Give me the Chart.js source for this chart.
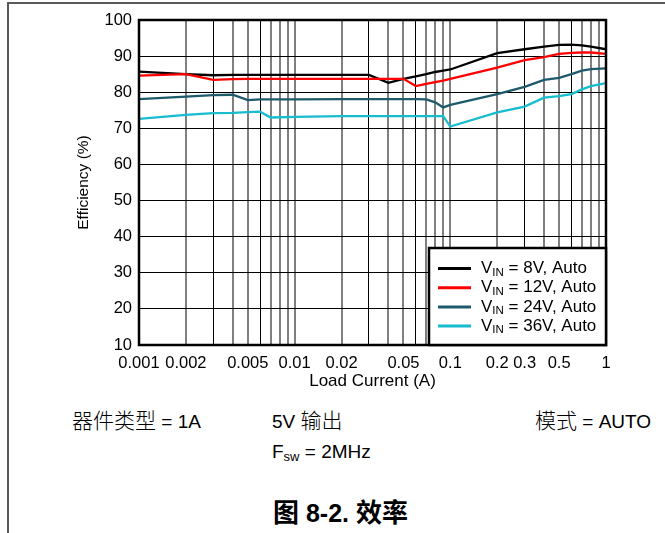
<!DOCTYPE html>
<html>
<head>
<meta charset="utf-8">
<script src="https://cdn.jsdelivr.net/npm/chart.js@4"></script>
<style>
  body { margin: 0; background: #fff; width: 665px; height: 533px; overflow: hidden; position: relative;
         font-family: "Liberation Sans", Arial, "Noto Sans CJK SC", sans-serif; color: #000; }
  #frame { position: absolute; left: 7px; top: 2px; width: 670px; height: 540px;
           border-top: 2px solid #5a5a5a; border-left: 2px solid #5a5a5a; }
  #wrap { position: absolute; left: 0; top: 0; width: 665px; height: 400px; }
  .note { position: absolute; font-size: 19px; line-height: 22px; height: 22px; white-space: nowrap; }
  .cjk { font-family: "Noto Sans CJK SC", sans-serif; font-weight: 300; font-size: 21px; }
  .note sub { font-size: 13px; vertical-align: -3px; }
  #caption { position: absolute; left: 273px; top: 496px; font-size: 25px; font-weight: bold; line-height: 30px; white-space: nowrap; }
  #caption .cjk { font-weight: bold; font-size: 26px; }
</style>
</head>
<body>
<div id="frame"></div>
<div id="wrap"><canvas id="eff_chart" width="665" height="400"></canvas></div>
<div class="note" style="left:72px; top:408px;"><span class="cjk">器件类型</span> = 1A</div>
<div class="note" style="left:272px; top:408px;">5V <span class="cjk">输出</span></div>
<div class="note" style="left:535px; top:408px;"><span class="cjk">模式</span> = AUTO</div>
<div class="note" style="left:272px; top:441px;">F<sub>sw</sub> = 2MHz</div>
<div id="caption"><span class="cjk">图</span> 8-2. <span class="cjk">效率</span></div>
<script>
const effCtx = document.getElementById("eff_chart").getContext("2d");

// load current (A), shared by all curves
const loadCurrent = [0.001, 0.002, 0.003, 0.004, 0.005, 0.006, 0.007, 0.01, 0.02, 0.03,
                     0.04, 0.05, 0.06, 0.07, 0.08, 0.09, 0.1, 0.2, 0.3, 0.4, 0.5, 0.6, 0.7, 0.8, 1];

// efficiency (%)
const eff8V  = [85.7, 85.0, 84.7, 84.8, 84.8, 84.8, 84.8, 84.8, 84.8, 84.8,
                82.6, 83.7, 84.4, 85.0, 85.6, 86.0, 86.3, 90.8, 91.9, 92.6, 93.1, 93.2, 93.0, 92.6, 91.9];
const eff12V = [84.6, 85.0, 83.4, 83.6, 83.7, 83.7, 83.7, 83.7, 83.7, 83.7,
                83.7, 83.7, 81.7, 82.3, 82.8, 83.2, 83.7, 86.8, 88.9, 89.7, 90.6, 90.9, 91.0, 91.0, 90.6];
const eff24V = [78.1, 78.8, 79.2, 79.3, 77.8, 78.0, 78.0, 78.0, 78.1, 78.1,
                78.1, 78.1, 78.1, 78.0, 77.2, 75.8, 76.5, 79.5, 81.5, 83.4, 84.0, 85.0, 86.0, 86.4, 86.6];
const eff36V = [72.6, 73.7, 74.2, 74.3, 74.5, 74.6, 73.0, 73.2, 73.4, 73.4,
                73.4, 73.4, 73.4, 73.4, 73.4, 73.4, 70.5, 74.4, 76.0, 78.5, 78.9, 79.5, 80.8, 81.7, 82.5];

const vinLabels = ["8V", "12V", "24V", "36V"];
const lineColors = ["#000000", "#ff0000", "#1d5a6c", "#17bccf"];

const xLabelValues = [0.001, 0.002, 0.005, 0.01, 0.02, 0.05, 0.1, 0.2, 0.3, 0.5, 1];
const xTickLabels = ["0.001", "0.002", "0.005", "0.01", "0.02", "0.05", "0.1", "0.2", "0.3", "0.5", "1"];

// grid lines at every 1..9 of each decade
const gridValues = [];
for (const d of [0.001, 0.01, 0.1]) {
    for (let m = 1; m <= 9; m++) gridValues.push(Number((m * d).toPrecision(3)));
}
gridValues.push(1);

const mantissa = v => Math.round(v / Math.pow(10, Math.floor(Math.log10(v) + 1e-9)));
const darkLine = ctx => ctx.tick && [3, 6].includes(mantissa(ctx.tick.value));

const toPoints = ys => ys.map((y, i) => ({ x: loadCurrent[i], y: y }));

const axisFont = { family: "'Liberation Sans', Arial", size: 16.5 };

// plot border + legend with subscript
const framePlugin = {
    id: "frame",
    afterDraw(chart) {
        const c = chart.ctx;
        const a = chart.chartArea;
        c.save();
        c.lineWidth = 2.5;
        c.strokeStyle = "#000";
        c.strokeRect(a.left, a.top, a.right - a.left, a.bottom - a.top);

        const bx = 429, by = 248;
        c.fillStyle = "#fff";
        c.fillRect(bx, by, a.right - bx, a.bottom - by);
        c.strokeRect(bx, by, a.right - bx, a.bottom - by);

        chart.data.datasets.forEach((ds, i) => {
            const y = 268.5 + i * 19.2;
            c.strokeStyle = ds.borderColor;
            c.lineWidth = 3;
            c.beginPath();
            c.moveTo(438, y);
            c.lineTo(471, y);
            c.stroke();
            c.fillStyle = "#000";
            c.textBaseline = "middle";
            c.font = "17px 'Liberation Sans', Arial";
            let x = 481;
            c.fillText("V", x, y);
            x += c.measureText("V").width;
            c.font = "11.5px 'Liberation Sans', Arial";
            c.fillText("IN", x, y + 4);
            x += c.measureText("IN").width;
            c.font = "17px 'Liberation Sans', Arial";
            c.fillText(" = " + vinLabels[i] + ", Auto", x, y);
        });
        c.restore();
    }
};

const effChart = new Chart(effCtx, {
    type: "line",
    data: {
        datasets: [eff8V, eff12V, eff24V, eff36V].map((ys, i) => ({
            label: "VIN = " + vinLabels[i] + ", Auto",
            data: toPoints(ys),
            borderColor: lineColors[i],
            backgroundColor: lineColors[i],
            borderWidth: 2.3,
            pointRadius: 0,
            tension: 0,
            order: 4 - i
        }))
    },
    options: {
        responsive: false,
        animation: false,
        layout: { padding: { left: 70, top: 20, right: 59, bottom: 0 } },
        plugins: { legend: { display: false }, tooltip: { enabled: false } },
        scales: {
            x: {
                type: "logarithmic",
                min: 0.001,
                max: 1,
                afterBuildTicks: scale => { scale.ticks = gridValues.map(v => ({ value: v })); },
                afterFit: scale => { scale.height = 55; },
                ticks: {
                    autoSkip: false,
                    maxRotation: 0,
                    padding: 9,
                    color: "#000",
                    font: axisFont,
                    callback: val => {
                        const k = xLabelValues.findIndex(v => Math.abs(v - val) / v < 1e-6);
                        return k >= 0 ? xTickLabels[k] : "";
                    }
                },
                grid: {
                    drawTicks: false,
                    color: ctx => darkLine(ctx) ? "#000" : "#7f7f7f",
                    lineWidth: ctx => darkLine(ctx) ? 1 : 2
                },
                border: { display: false },
                title: {
                    display: true,
                    text: "Load Current (A)",
                    color: "#000",
                    font: { family: "'Liberation Sans', Arial", size: 17 },
                    padding: { top: 0, bottom: 8 }
                }
            },
            y: {
                min: 10,
                max: 100,
                afterFit: scale => { scale.width = 69; },
                ticks: {
                    stepSize: 10,
                    padding: 7,
                    color: "#000",
                    font: axisFont
                },
                grid: { drawTicks: false, color: "#000", lineWidth: 1 },
                border: { display: false },
                title: {
                    display: true,
                    text: "Efficiency (%)",
                    color: "#000",
                    font: { family: "'Liberation Sans', Arial", size: 15.5 },
                    padding: { top: 4, bottom: 4 }
                }
            }
        }
    },
    plugins: [framePlugin]
});
</script>
</body>
</html>
